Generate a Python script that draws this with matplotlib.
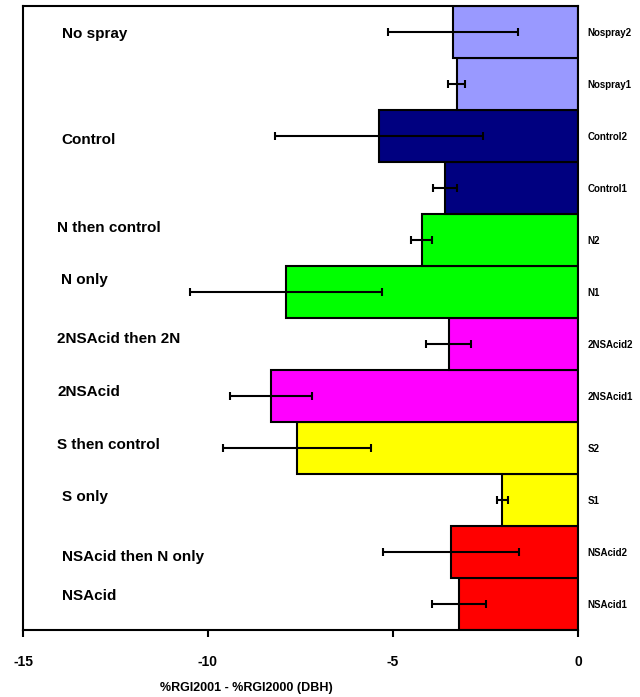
import matplotlib
matplotlib.use("Agg")
import matplotlib.pyplot as plt

plt.rcParams['font.family'] = ['Liberation Sans', 'DejaVu Sans']
plt.rcParams['font.weight'] = 'bold'

# bottom to top
bar_names = ["NSAcid1", "NSAcid2", "S1", "S2", "2NSAcid1", "2NSAcid2",
             "N1", "N2", "Control1", "Control2", "Nospray1", "Nospray2"]
values = [-3.22, -3.43, -2.05, -7.59, -8.30, -3.49,
          -7.89, -4.22, -3.59, -5.38, -3.27, -3.38]
errors = [0.73, 1.85, 0.15, 2.00, 1.10, 0.61,
          2.60, 0.28, 0.32, 2.81, 0.23, 1.75]
colors = ["#FF0000", "#FF0000", "#FFFF00", "#FFFF00", "#FF00FF", "#FF00FF",
          "#00FF00", "#00FF00", "#000080", "#000080", "#9999FF", "#9999FF"]

group_labels = ["No spray", "Control", "N then control", "N only",
                "2NSAcid then 2N", "2NSAcid", "S then control", "S only",
                "NSAcid then N only", "NSAcid"]
group_y = [10.96, 8.92, 7.23, 6.23, 5.10, 4.08, 3.06, 2.06, 0.90, 0.15]
group_x = [-13.95, -13.97, -14.08, -13.97, -14.08, -14.08, -14.08, -13.95, -13.95, -13.95]

fig = plt.figure(figsize=(6.4, 6.97), dpi=100)
ax = fig.add_axes([0.036, 0.096, 0.867, 0.895])

pos = list(range(len(values)))
ax.barh(pos, values, height=1.0, color=colors, edgecolor="black", linewidth=1.5)
ax.errorbar(values, pos, xerr=errors, fmt="none", ecolor="black",
            elinewidth=1.5, capsize=3, capthick=1.5)

for lbl, x, y in zip(group_labels, group_x, group_y):
    ax.text(x, y, lbl, ha="left", va="center", fontsize=11, fontweight="bold")

ax.set_xlim(-15, 0)
ax.set_ylim(-0.5, len(values) - 0.5)
ax.set_xticks([-15, -10, -5, 0])
ax.set_xticklabels(["-15", "-10", "-5", "0"], fontsize=10, fontweight="bold")
ax.tick_params(axis="x", direction="out", length=5, width=1.5, pad=13)

ax.yaxis.tick_right()
ax.set_yticks(pos)
ax.set_yticklabels(bar_names, fontsize=7, fontweight="bold")
ax.tick_params(axis="y", length=0, pad=7)

for s in ax.spines.values():
    s.set_linewidth(1.5)

ax.set_xlabel("%RGI2001 - %RGI2000 (DBH)", fontsize=9, fontweight="bold")
ax.xaxis.set_label_coords(0.402, -0.083)

fig.savefig("out.png", dpi=100)
